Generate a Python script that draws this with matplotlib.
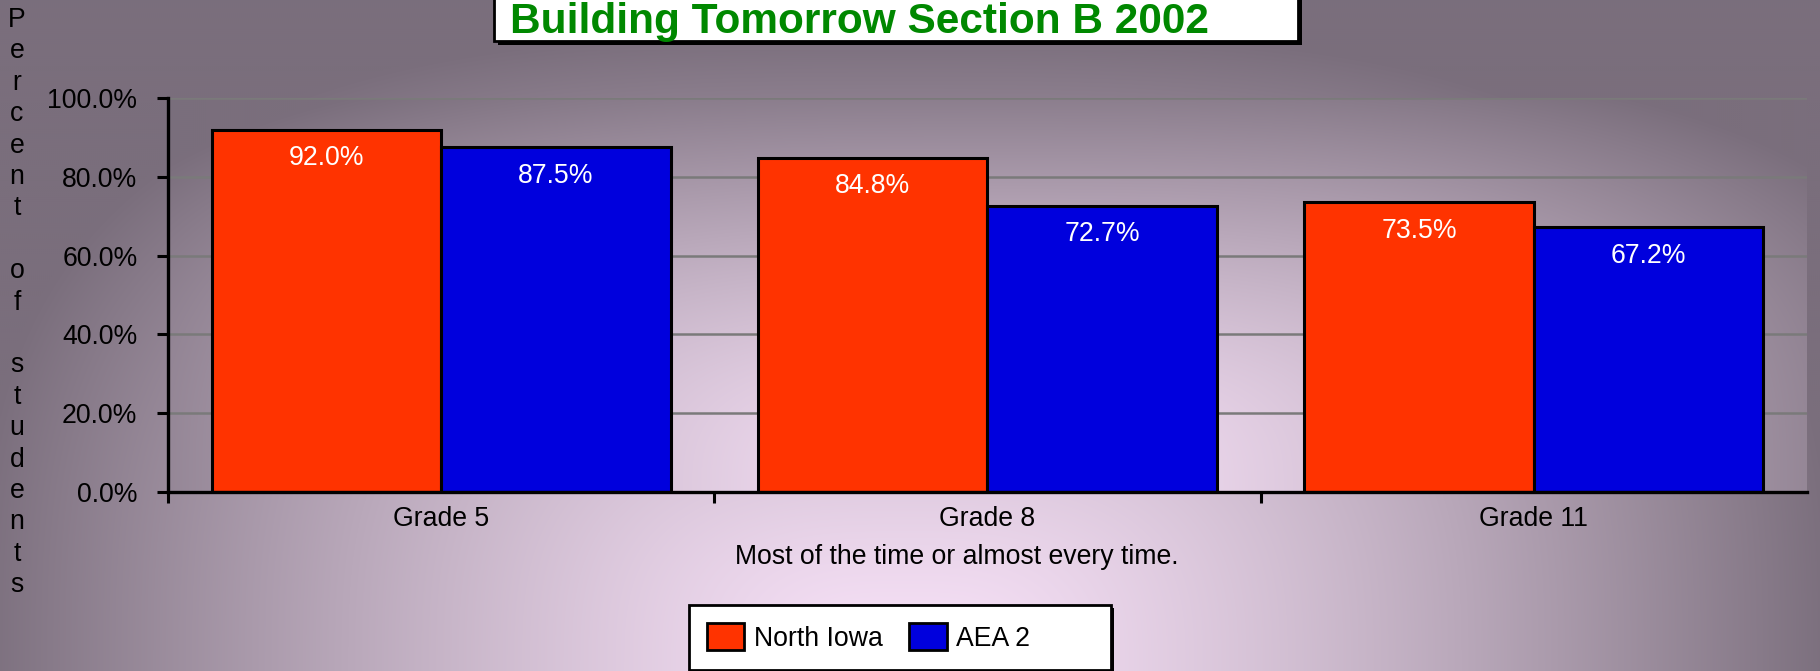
import numpy as np
import matplotlib
matplotlib.use('Agg')
from matplotlib import pyplot as plt
from matplotlib.patches import Rectangle, Patch

grades = ['Grade 5', 'Grade 8', 'Grade 11']
north_iowa = [92.0, 84.8, 73.5]
aea_2 = [87.5, 72.7, 67.2]
series_names = ['North Iowa', 'AEA 2']
series_colors = ['#ff3300', '#0000dd']
y_ticks = [0, 20, 40, 60, 80, 100]

title = 'Building Tomorrow Section B 2002'
x_title = 'Most of the time or almost every time.'
y_title = 'Percent of students'

W, H = 1820, 671
FS = 19.2
plt.rcParams['font.family'] = ['Liberation Sans', 'DejaVu Sans']

LIGHT = (248, 226, 248)
DARK = (122, 110, 124)


def centre_gradient(w, h, cx, cy, rx, ry, gamma=1.35, p=3):
    # "from centre" fill: light at (cx, cy), dark towards the rim
    yy, xx = np.mgrid[0:h, 0:w] + 0.5
    dx = np.abs(xx - cx) / rx
    dy = np.abs(yy - cy) / ry
    t = (dx ** p + dy ** p) ** (1 / p)
    t = np.clip(t, 0, 1) ** gamma
    light = np.array(LIGHT) / 255
    dark = np.array(DARK) / 255
    return light * (1 - t[..., None]) + dark * t[..., None]


def px_rect(x0, y0, x1, y1, **kw):
    # rectangle given in pixels measured from the top-left corner
    return Rectangle((x0 / W, 1 - y1 / H), (x1 - x0) / W, (y1 - y0) / H,
                     transform=fig.transFigure, **kw)


fig = plt.figure(figsize=(W / 100, H / 100), dpi=100)

bg = fig.add_axes([0, 0, 1, 1], zorder=-1)
bg.imshow(centre_gradient(W // 2, H // 2, 905 / 2, H / 2, 930 / 2, 640 / 2),
          aspect='auto', interpolation='bilinear')
bg.axis('off')

ax_l, ax_r, ax_t, ax_b = 168, 1807, 98, 492
pw, ph = ax_r - ax_l, ax_b - ax_t
ax = fig.add_axes([ax_l / W, 1 - ax_b / H, pw / W, ph / H])
ax.set_facecolor('none')
ax.imshow(centre_gradient(pw // 2, ph // 2, pw / 4, ph / 2, 980 / 2, 440 / 2),
          extent=(-0.5, 2.5, 0, 100), aspect='auto', zorder=0,
          interpolation='bilinear')

x = np.arange(len(grades))
w = 0.42
b1 = ax.bar(x - w / 2, north_iowa, w, color=series_colors[0],
            edgecolor='black', linewidth=2.2, zorder=2)
b2 = ax.bar(x + w / 2, aea_2, w, color=series_colors[1],
            edgecolor='black', linewidth=2.2, zorder=2)

for bars, vals in ((b1, north_iowa), (b2, aea_2)):
    for rect, v in zip(bars, vals):
        ax.annotate(f'{v:.1f}%', (rect.get_x() + rect.get_width() / 2, v),
                    xytext=(0, -25.5), textcoords='offset points',
                    ha='center', va='baseline', color='white',
                    fontsize=FS, zorder=3)

ax.set_xlim(-0.5, 2.5)
ax.set_ylim(0, 100)
ax.set_yticks(y_ticks)
ax.set_yticklabels([f'{v:.1f}%' for v in y_ticks], fontsize=FS)
ax.set_xticks(x)
ax.set_xticklabels(grades, fontsize=FS)
ax.set_xticks(np.arange(-0.5, 2, 1), minor=True)
ax.tick_params(axis='x', which='major', length=0, pad=10)
ax.tick_params(axis='x', which='minor', length=8, width=2.2, color='black')
ax.tick_params(axis='y', length=8, width=2.2, pad=14, color='black')

ax.grid(axis='y', color='#7a7a7a', linewidth=1.8)
ax.set_axisbelow(True)
for side in ('top', 'right'):
    ax.spines[side].set_visible(False)
for side in ('left', 'bottom'):
    ax.spines[side].set_linewidth(2.4)
    ax.spines[side].set_color('black')
    ax.spines[side].set_zorder(4)

# stacked letters of the y title
step = 31.4
for i, ch in enumerate(y_title):
    fig.text(17 / W, 1 - (20 + i * step) / H, ch, ha='center', va='center',
             fontsize=FS)

fig.text(957 / W, 1 - 557 / H, x_title, ha='center', va='center', fontsize=FS)

# title box with a drop shadow
fig.add_artist(px_rect(498, -10, 1302, 45, facecolor='black', edgecolor='none'))
fig.add_artist(px_rect(494, -10, 1298, 41, facecolor='white',
                       edgecolor='black', linewidth=2))
fig.text(510 / W, 1 - 33 / H, title, ha='left', va='baseline',
         fontsize=30.5, fontweight='bold', color='#008800')

# legend box
fig.add_artist(px_rect(692, 608, 1114, 680, facecolor='black', edgecolor='none'))
fig.add_artist(px_rect(689, 605, 1111, 670, facecolor='white',
                       edgecolor='black', linewidth=2))
handles = [Patch(facecolor=c, edgecolor='black', linewidth=2)
           for c in series_colors]
fig.legend(handles, series_names, loc='center left',
           bbox_to_anchor=(707 / W, 1 - 637.5 / H), frameon=False,
           borderpad=0, borderaxespad=0, handlelength=1.39, handleheight=1.16,
           handletextpad=0.37, columnspacing=1.0, ncol=2, fontsize=FS)

fig.savefig('out.png', dpi=100)
